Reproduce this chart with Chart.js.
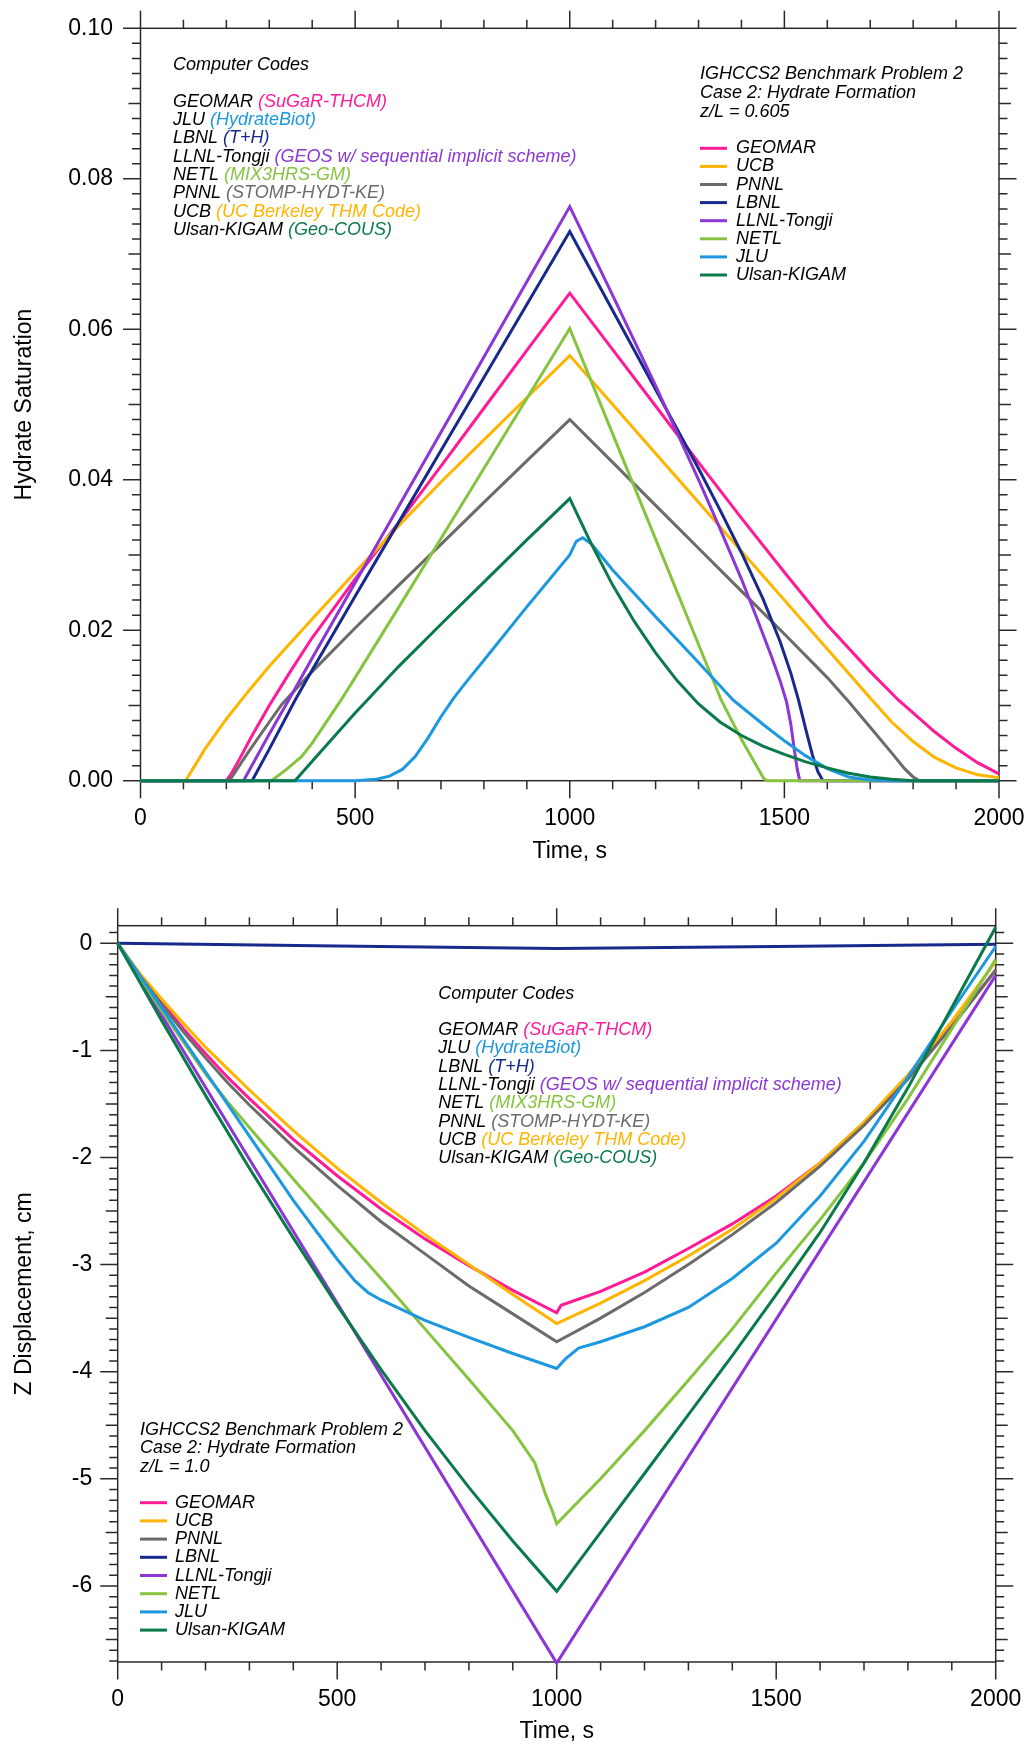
<!DOCTYPE html>
<html>
<head>
<meta charset="utf-8">
<title>IGHCCS2 Benchmark Problem 2 - Case 2</title>
<script src="https://cdn.jsdelivr.net/npm/chart.js@4.4.1/dist/chart.umd.min.js"></script>
<style>
  html, body { margin: 0; padding: 0; background: #fff; }
  #wrap { position: relative; width: 1028px; height: 1746px; }
  .panel { position: absolute; left: 0; width: 1028px; }
  #panelSat { top: 0; height: 880px; }
  #panelZ { top: 880px; height: 866px; }
</style>
</head>
<body>
<div id="wrap">
  <div class="panel" id="panelSat"><canvas id="chartSat"></canvas></div>
  <div class="panel" id="panelZ"><canvas id="chartZ"></canvas></div>
</div>
<script>
// series, in legend order
const seriesNames = ['GEOMAR', 'UCB', 'PNNL', 'LBNL', 'LLNL-Tongji', 'NETL', 'JLU', 'Ulsan-KIGAM'];
const seriesColors = ['#ff1a98', '#ffb400', '#6b6b6b', '#18298c', '#8c36d4', '#86c43f', '#1b98e0', '#0a7a4a'];

// "Computer Codes" block
const codeGroups = ['GEOMAR', 'JLU', 'LBNL', 'LLNL-Tongji', 'NETL', 'PNNL', 'UCB', 'Ulsan-KIGAM'];
const codeNames = ['(SuGaR-THCM)', '(HydrateBiot)', '(T+H)', '(GEOS w/ sequential implicit scheme)',
                   '(MIX3HRS-GM)', '(STOMP-HYDT-KE)', '(UC Berkeley THM Code)', '(Geo-COUS)'];

const timeTicks = [0, 500, 1000, 1500, 2000];
const satTicks = [0, 0.02, 0.04, 0.06, 0.08, 0.10];
const zTicks = [0, -1, -2, -3, -4, -5, -6];

// hydrate saturation at z/L = 0.605  [time s, saturation]
const satGeomar = [[0,0],[200,0],[210,0.0008],[230,0.0028],[260,0.006],[300,0.01],[350,0.0146],[400,0.019],[500,0.0268],[600,0.0342],[700,0.0418],[800,0.0495],[900,0.0572],[1000,0.0648],[1100,0.0573],[1200,0.0498],[1300,0.0423],[1400,0.0349],[1500,0.0277],[1600,0.0207],[1700,0.0145],[1766,0.0107],[1800,0.009],[1850,0.0065],[1900,0.0043],[1950,0.0024],[2000,0.0009]];
const satUcb = [[0,0],[105,0],[150,0.0042],[200,0.0082],[250,0.0118],[300,0.0152],[400,0.0215],[500,0.0277],[600,0.0338],[700,0.0397],[800,0.0453],[900,0.0509],[1000,0.0565],[1100,0.05],[1200,0.0435],[1300,0.037],[1400,0.0305],[1500,0.024],[1600,0.0175],[1700,0.011],[1750,0.0078],[1800,0.0052],[1850,0.0031],[1900,0.0017],[1950,0.0008],[2000,0.0004]];
const satPnnl = [[0,0],[207,0],[250,0.0037],[300,0.0078],[330,0.0102],[400,0.0145],[500,0.0203],[600,0.0259],[700,0.0314],[800,0.037],[900,0.0425],[1000,0.048],[1100,0.0423],[1200,0.0366],[1300,0.0309],[1400,0.0252],[1500,0.0195],[1600,0.0137],[1650,0.0105],[1700,0.0071],[1750,0.0037],[1780,0.0016],[1800,0.0005],[1815,0],[2000,0]];
const satLbnl = [[0,0],[260,0],[300,0.0042],[360,0.0107],[400,0.0147],[500,0.0245],[600,0.0342],[700,0.0439],[800,0.0536],[900,0.0633],[1000,0.073],[1100,0.0625],[1200,0.052],[1300,0.0415],[1350,0.036],[1400,0.0303],[1450,0.0242],[1490,0.0185],[1515,0.0143],[1533,0.0107],[1550,0.0068],[1565,0.0035],[1578,0.0012],[1590,0],[2000,0]];
const satLlnl = [[0,0],[240,0],[300,0.0062],[345,0.0107],[400,0.0163],[500,0.0263],[600,0.0363],[700,0.0463],[800,0.0563],[900,0.0663],[1000,0.0763],[1100,0.0645],[1200,0.0525],[1300,0.04],[1350,0.0335],[1400,0.0268],[1440,0.021],[1470,0.0165],[1490,0.0133],[1505,0.0105],[1515,0.0075],[1523,0.0042],[1530,0.0015],[1536,0],[2000,0]];
const satNetl = [[0,0],[305,0],[340,0.0015],[375,0.0032],[400,0.005],[467,0.0107],[500,0.0137],[600,0.0229],[700,0.0322],[800,0.0415],[900,0.0508],[1000,0.0601],[1100,0.0461],[1200,0.0321],[1300,0.0181],[1353,0.0107],[1400,0.0055],[1430,0.0025],[1452,0.0003],[1460,0],[2000,0]];
const satJlu = [[0,0],[500,0],[550,0.0002],[580,0.0006],[610,0.0015],[640,0.0032],[670,0.0057],[700,0.0085],[730,0.011],[760,0.0132],[800,0.016],[900,0.0231],[1000,0.03],[1015,0.0318],[1030,0.0323],[1050,0.0315],[1100,0.028],[1200,0.0218],[1300,0.0157],[1381,0.0107],[1450,0.0075],[1500,0.0053],[1550,0.0033],[1600,0.0016],[1650,0.0005],[1700,0.0001],[1750,0],[2000,0]];
const satUlsan = [[0,0],[360,0],[400,0.0026],[500,0.009],[528,0.0107],[600,0.0151],[700,0.0208],[800,0.0264],[900,0.032],[1000,0.0375],[1050,0.0315],[1100,0.026],[1150,0.0212],[1200,0.017],[1250,0.0133],[1300,0.0102],[1350,0.0078],[1400,0.006],[1450,0.0046],[1500,0.0035],[1550,0.0025],[1600,0.0017],[1650,0.001],[1700,0.0005],[1750,0.0002],[1800,0],[2000,0]];

// Z displacement at z/L = 1.0  [time s, cm]
const zGeomar = [[0,0],[50,-0.3],[100,-0.55],[150,-0.8],[200,-1.03],[250,-1.25],[300,-1.45],[400,-1.83],[500,-2.17],[600,-2.48],[700,-2.76],[800,-3.01],[900,-3.24],[1000,-3.45],[1010,-3.38],[1100,-3.25],[1200,-3.07],[1300,-2.85],[1400,-2.62],[1500,-2.36],[1600,-2.05],[1700,-1.68],[1800,-1.25],[1900,-0.77],[2000,-0.25]];
const zUcb = [[0,0],[50,-0.28],[100,-0.52],[150,-0.75],[200,-0.97],[250,-1.17],[300,-1.37],[400,-1.75],[500,-2.1],[600,-2.42],[700,-2.72],[800,-3.0],[900,-3.28],[1000,-3.55],[1100,-3.36],[1200,-3.15],[1300,-2.92],[1400,-2.67],[1500,-2.38],[1600,-2.05],[1700,-1.67],[1800,-1.23],[1900,-0.73],[2000,-0.17]];
const zPnnl = [[0,0],[50,-0.3],[100,-0.57],[150,-0.83],[200,-1.07],[250,-1.3],[300,-1.51],[400,-1.9],[500,-2.26],[600,-2.6],[700,-2.9],[800,-3.2],[900,-3.46],[1000,-3.72],[1100,-3.5],[1200,-3.26],[1300,-3.0],[1400,-2.72],[1500,-2.42],[1600,-2.08],[1700,-1.7],[1800,-1.27],[1900,-0.78],[2000,-0.25]];
const zLbnl = [[0,0],[500,-0.025],[1000,-0.05],[1500,-0.03],[2000,-0.01]];
const zLlnl = [[0,0],[1000,-6.72],[2000,-0.3]];
const zNetl = [[0,0],[100,-0.63],[200,-1.22],[250,-1.48],[300,-1.72],[400,-2.2],[500,-2.67],[600,-3.13],[700,-3.6],[800,-4.07],[900,-4.55],[950,-4.85],[975,-5.15],[990,-5.3],[1000,-5.42],[1100,-5.0],[1200,-4.55],[1300,-4.08],[1400,-3.6],[1500,-3.08],[1600,-2.58],[1700,-2.05],[1800,-1.45],[1900,-0.8],[2000,-0.15]];
const zJlu = [[0,0],[100,-0.6],[200,-1.2],[300,-1.8],[400,-2.4],[500,-2.95],[540,-3.15],[570,-3.26],[600,-3.33],[700,-3.52],[800,-3.68],[900,-3.83],[1000,-3.97],[1020,-3.88],[1050,-3.78],[1100,-3.72],[1200,-3.58],[1300,-3.4],[1400,-3.13],[1500,-2.8],[1600,-2.36],[1700,-1.85],[1800,-1.25],[1900,-0.63],[2000,-0.03]];
const zUlsan = [[0,0],[100,-0.72],[200,-1.42],[300,-2.1],[400,-2.75],[500,-3.38],[600,-3.98],[700,-4.55],[800,-5.08],[900,-5.58],[1000,-6.05],[1100,-5.5],[1200,-4.95],[1300,-4.4],[1400,-3.85],[1500,-3.28],[1600,-2.7],[1700,-2.05],[1800,-1.35],[1900,-0.6],[2000,0.15]];

const satSeries = [satGeomar, satUcb, satPnnl, satLbnl, satLlnl, satNetl, satJlu, satUlsan];
const zSeries = [zGeomar, zUcb, zPnnl, zLbnl, zLlnl, zNetl, zJlu, zUlsan];

const FONT = '"Liberation Sans", Arial, Helvetica, sans-serif';
const NOTE_FONT = 'italic 18px ' + FONT;

function makeDatasets(list) {
    return list.map((pts, i) => ({
        label: seriesNames[i],
        data: pts.map(p => ({ x: p[0], y: p[1] })),
        borderColor: seriesColors[i],
        backgroundColor: seriesColors[i],
        borderWidth: 3,
        pointRadius: 0,
        tension: 0,
        fill: false,
        clip: 4,
        order: seriesNames.length - i   // Ulsan-KIGAM ends up on top
    }));
}

// frame on all four sides with outward major / medium / minor ticks
function tickMarks(min, max, minor, mid, major) {
    const out = [];
    const eps = 1e-6;
    for (let i = Math.ceil(min / minor - eps); i * minor <= max + eps; i++) {
        const v = i * minor;
        const isMul = s => Math.abs(v / s - Math.round(v / s)) < 1e-6;
        out.push({ v, kind: isMul(major) ? 2 : (mid && isMul(mid) ? 1 : 0) });
    }
    return out;
}

const framePlugin = {
    id: 'frame',
    beforeDatasetsDraw(chart, args, opts) {
        const { ctx, chartArea: a, scales: { x, y } } = chart;
        const lens = [8.5, 12, 17.5];
        ctx.save();
        ctx.strokeStyle = '#2a2a2a';
        ctx.lineWidth = 1.5;
        ctx.strokeRect(a.left, a.top, a.right - a.left, a.bottom - a.top);
        ctx.beginPath();
        tickMarks(x.min, x.max, opts.xMinor, opts.xMid, opts.xMajor).forEach(t => {
            const px = x.getPixelForValue(t.v);
            const L = lens[t.kind];
            ctx.moveTo(px, a.bottom); ctx.lineTo(px, a.bottom + L);
            ctx.moveTo(px, a.top); ctx.lineTo(px, a.top - L);
        });
        tickMarks(y.min, y.max, opts.yMinor, opts.yMid, opts.yMajor).forEach(t => {
            const py = y.getPixelForValue(t.v);
            const L = lens[t.kind];
            ctx.moveTo(a.left, py); ctx.lineTo(a.left - L, py);
            ctx.moveTo(a.right, py); ctx.lineTo(a.right + L, py);
        });
        ctx.stroke();
        ctx.restore();
    }
};

// annotation text, legend and the computer codes block
const notesPlugin = {
    id: 'notes',
    afterDraw(chart, args, o) {
        const ctx = chart.ctx;
        ctx.save();
        ctx.font = NOTE_FONT;
        ctx.textBaseline = 'middle';
        ctx.textAlign = 'left';

        ctx.fillStyle = '#000';
        ctx.fillText('Computer Codes', o.codesX, o.codesTitleY);
        codeGroups.forEach((g, i) => {
            const yy = o.codesY + i * o.codesStep;
            ctx.fillStyle = '#000';
            ctx.fillText(g, o.codesX, yy);
            const w = ctx.measureText(g + ' ').width;
            ctx.fillStyle = seriesColors[seriesNames.indexOf(g)];
            ctx.fillText(codeNames[i], o.codesX + w, yy);
        });

        ctx.fillStyle = '#000';
        o.title.forEach((t, i) => ctx.fillText(t, o.titleX, o.titleY + i * o.titleStep));

        seriesNames.forEach((n, i) => {
            const yy = o.legY + i * o.legStep;
            ctx.strokeStyle = seriesColors[i];
            ctx.lineWidth = 3;
            ctx.beginPath();
            ctx.moveTo(o.titleX, yy);
            ctx.lineTo(o.titleX + o.legLine, yy);
            ctx.stroke();
            ctx.fillStyle = '#000';
            ctx.fillText(n, o.titleX + o.legText, yy);
        });
        ctx.restore();
    }
};

function axisOptions(cfg) {
    const font = { family: FONT, size: 23 };
    return {
        x: {
            type: 'linear', min: 0, max: 2000,
            // fixed height, and no extra room for the end labels
            afterFit: s => { s.height = cfg.xHeight; s.paddingLeft = 0; s.paddingRight = 0; },
            afterBuildTicks: s => { s.ticks = timeTicks.map(v => ({ value: v })); },
            grid: { display: false, drawTicks: false },
            border: { display: false },
            ticks: { font, color: '#000', padding: cfg.xPad, maxRotation: 0, autoSkip: false, callback: v => String(v) },
            title: { display: true, text: 'Time, s', font, color: '#000', padding: { top: 0, bottom: cfg.xTitlePad } }
        },
        y: {
            type: 'linear', min: cfg.yMin, max: cfg.yMax,
            afterFit: s => { s.width = cfg.yWidth; s.paddingTop = 0; s.paddingBottom = 0; },
            afterBuildTicks: s => { s.ticks = cfg.yTicks.map(v => ({ value: v })); },
            grid: { display: false, drawTicks: false },
            border: { display: false },
            ticks: { font, color: '#000', padding: cfg.yPad, autoSkip: false, callback: cfg.yFmt },
            title: { display: true, text: cfg.yTitle, font, color: '#000', padding: { top: 10.7, bottom: 0 } }
        }
    };
}

new Chart(document.getElementById('chartSat'), {
    type: 'line',
    data: { datasets: makeDatasets(satSeries) },
    plugins: [framePlugin, notesPlugin],
    options: {
        responsive: true,
        maintainAspectRatio: false,
        animation: false,
        layout: { padding: { left: 0, top: 28.3, right: 29, bottom: 0 } },
        scales: axisOptions({
            xHeight: 99.3, xPad: 24.5, xTitlePad: 14.5,
            yMin: 0, yMax: 0.1, yTicks: satTicks, yWidth: 140.5, yPad: 27.5,
            yFmt: v => v.toFixed(2), yTitle: 'Hydrate Saturation'
        }),
        plugins: {
            legend: { display: false },
            tooltip: { enabled: false },
            frame: { xMinor: 100, xMid: 0, xMajor: 500, yMinor: 0.002, yMid: 0.01, yMajor: 0.02 },
            notes: {
                codesX: 173, codesTitleY: 65, codesY: 101.7, codesStep: 18.35,
                titleX: 700, titleY: 74, titleStep: 18.8,
                title: ['IGHCCS2 Benchmark Problem 2', 'Case 2: Hydrate Formation', 'z/L = 0.605'],
                legY: 148.3, legStep: 18.1, legLine: 27, legText: 36
            }
        }
    }
});

new Chart(document.getElementById('chartZ'), {
    type: 'line',
    data: { datasets: makeDatasets(zSeries) },
    plugins: [framePlugin, notesPlugin],
    options: {
        responsive: true,
        maintainAspectRatio: false,
        animation: false,
        layout: { padding: { left: 0, top: 45.7, right: 32.3, bottom: 0 } },
        scales: axisOptions({
            xHeight: 84, xPad: 24.2, xTitlePad: 0.5,
            yMin: -6.71, yMax: 0.164, yTicks: zTicks, yWidth: 117.7, yPad: 25.4,
            yFmt: v => String(v), yTitle: 'Z Displacement, cm'
        }),
        plugins: {
            legend: { display: false },
            tooltip: { enabled: false },
            frame: { xMinor: 100, xMid: 0, xMajor: 500, yMinor: 0.1, yMid: 0.5, yMajor: 1 },
            notes: {
                codesX: 438.3, codesTitleY: 114.3, codesY: 150, codesStep: 18.3,
                titleX: 140, titleY: 550, titleStep: 18.35,
                title: ['IGHCCS2 Benchmark Problem 2', 'Case 2: Hydrate Formation', 'z/L = 1.0'],
                legY: 622.7, legStep: 18.2, legLine: 27, legText: 35
            }
        }
    }
});
</script>
</body>
</html>
